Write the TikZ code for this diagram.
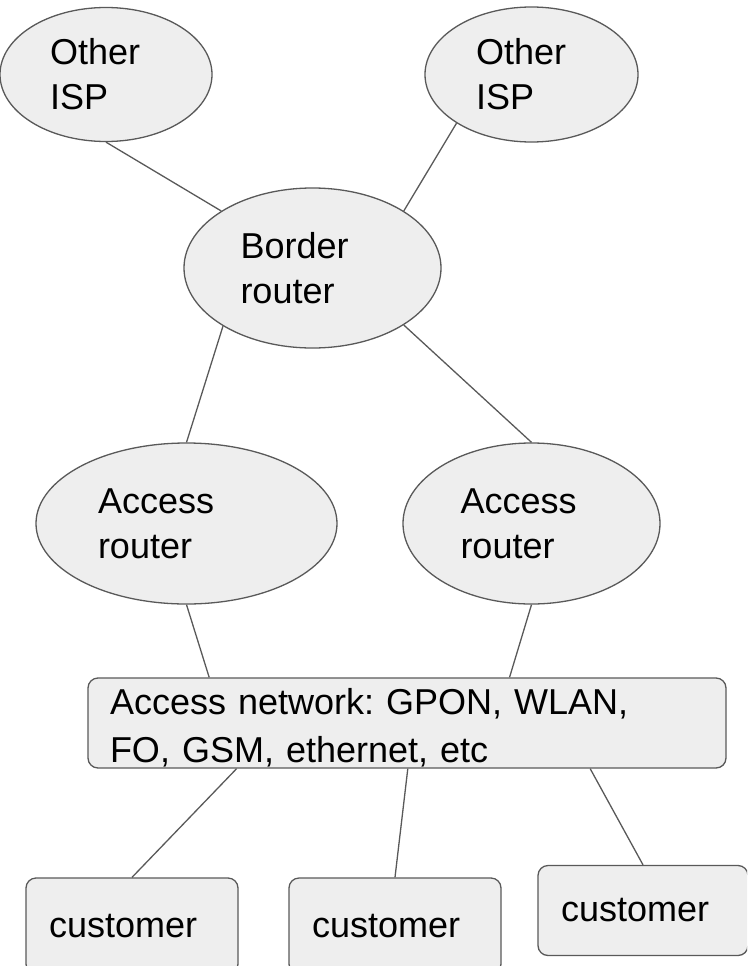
\documentclass[tikz,border=0pt]{standalone}
\usepackage{fontspec}
\setmainfont{Liberation Sans}
\usetikzlibrary{shapes.geometric}
\usepackage{xcolor}
\definecolor{myfill}{HTML}{EEEEEE}
\definecolor{myline}{HTML}{595959}
\frenchspacing

\begin{document}
\begin{tikzpicture}[x=1pt,y=1pt,
    blob/.style={ellipse, draw=myline, fill=myfill, line width=1.3pt,
      inner sep=0pt, align=left, font=\fontsize{36}{45}\selectfont},
    boxy/.style={rectangle, rounded corners=10pt, draw=myline, fill=myfill,
      line width=1.3pt, inner ysep=0pt, align=left,
      font=\fontsize{36}{48}\selectfont},
    link/.style={-, line width=1.3pt, color=myline}]

      \path[use as bounding box, clip] (0,0) rectangle (747,-966);

      \pgfmathsetmacro{\ispY}{-74.5}
      \pgfmathsetmacro{\borderY}{-268}
      \pgfmathsetmacro{\accessY}{-523.5}
      \pgfmathsetmacro{\netY}{-723}
      \pgfmathsetmacro{\custY}{-926}

      % other ISPs
      \node [name=isp1, blob, minimum width=212pt, minimum height=134pt,
        text width=112pt] at (106, \ispY) {Other\\ISP};
      \node [name=isp2, blob, minimum width=213pt, minimum height=135pt,
        text width=111pt] at (531.5, \ispY) {Other\\ISP};

      % border router
      \node [name=br, blob, minimum width=257pt, minimum height=160pt,
        text width=144pt] at (312.5, \borderY) {Border\\router};

      % access routers
      \node [name=ar1, blob, minimum width=301pt, minimum height=161pt,
        text width=177pt] at (186.5, \accessY) {Access\\router};
      \node [name=ar2, blob, minimum width=257pt, minimum height=161pt,
        text width=142pt] at (531.5, \accessY) {Access\\router};

      % access network
      \node [name=an, boxy, minimum width=638pt, minimum height=90pt,
        inner xsep=22pt, text width=594pt] at (407, \netY)
      {\rule{0pt}{36pt}Access network: GPON, WLAN,\\FO, GSM, ethernet, etc};

      % customers
      \node [name=c1, boxy, minimum height=96pt, inner xsep=23pt,
        text width=166pt] at (132, \custY) {customer};
      \node [name=c2, boxy, minimum height=96pt, inner xsep=23pt,
        text width=166pt] at (395, \custY) {customer};
      \node [name=c3, boxy, minimum height=90pt, inner xsep=23pt,
        text width=164pt] at (643, -910.5) {customer};

      \draw [link] (isp1.south) -- (br.148);
      \draw [link] (isp2.213) -- (br.32);

      \draw [link] (br.213) -- (ar1.north);
      \draw [link] (br.328) -- (ar2.north);

      \draw [link] (ar1.south) -- (an.167);
      \draw [link] (ar2.south) -- (an.24);

      \draw [link] (an.195) -- (c1.north);
      \draw [link] (an.271) -- (c2.north);
      \draw [link] (an.346) -- (c3.north);

\end{tikzpicture}
\end{document}
